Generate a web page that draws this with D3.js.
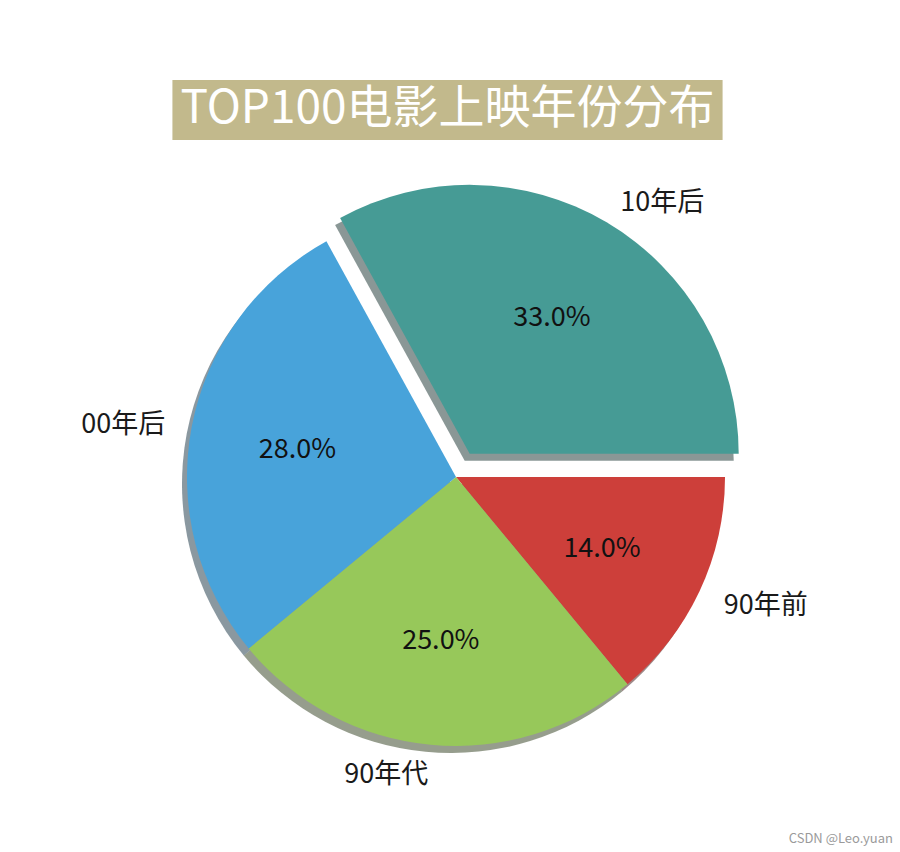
<!DOCTYPE html>
<html>
<head>
<meta charset="utf-8">
<script src="https://cdn.jsdelivr.net/npm/d3@7"></script>
<style>
  html, body { margin: 0; padding: 0; background: #ffffff; }
  svg { display: block; }
</style>
</head>
<body>
<svg id="chart" width="900" height="852"></svg>
<script>
// ---- data ----
const categories = ["90年前", "90年代", "00年后", "10年后"];
const values = [14, 25, 28, 33];
const colors = ["#cd3f3a", "#97c85a", "#48a3da", "#469b95"];
const explode = [0, 0, 0, 0.1];
const titleText = "TOP100电影上映年份分布";
const watermark = "CSDN @Leo.yuan";

// ---- layout ----
const W = 900, H = 852;
const cx = 456, cy = 477, R = 269;
const shadowDx = -5, shadowDy = 7;
const font = "'Noto Sans CJK SC', 'Noto Sans', sans-serif";

const svg = d3.select("#chart");

// title
const titleG = svg.append("g");
const titleRect = titleG.append("rect").attr("fill", "#c2b98c");
const title = titleG.append("text")
  .attr("x", 447.5).attr("y", 123)
  .attr("text-anchor", "middle")
  .attr("font-family", font)
  .attr("font-size", 46)
  .attr("fill", "#ffffff")
  .text(titleText);
const tw = title.node().getComputedTextLength();
titleRect.attr("x", 447.5 - tw / 2 - 8).attr("y", 80)
  .attr("width", tw + 16).attr("height", 60);

// pie
const data = categories.map((c, i) => ({ label: c, value: values[i], color: colors[i], explode: explode[i] }));
const total = d3.sum(values);
const pie = d3.pie().value(d => d.value).sort(null)
  .startAngle(Math.PI / 2).endAngle(Math.PI / 2 + 2 * Math.PI);
const arcs = pie(data);
const arc = d3.arc().innerRadius(0).outerRadius(R);
const pctArc = d3.arc().innerRadius(R * 0.6).outerRadius(R * 0.6);
const labArc = d3.arc().innerRadius(R * 1.1).outerRadius(R * 1.1);

function offset(d) {
  const mid = (d.startAngle + d.endAngle) / 2;
  const m = d.data.explode * R;
  return [m * Math.sin(mid), -m * Math.cos(mid)];
}

const g = svg.append("g").attr("transform", `translate(${cx},${cy})`);

// shadows beneath all wedges
g.selectAll("path.shadow").data(arcs).enter().append("path")
  .attr("class", "shadow")
  .attr("transform", d => { const o = offset(d); return `translate(${o[0] + shadowDx},${o[1] + shadowDy})`; })
  .attr("d", arc)
  .attr("fill", d => { const c = d3.rgb(d.data.color); return d3.rgb(c.r * 0.3, c.g * 0.3, c.b * 0.3); })
  .attr("fill-opacity", 0.5);

// wedges
g.selectAll("path.wedge").data(arcs).enter().append("path")
  .attr("class", "wedge")
  .attr("transform", d => { const o = offset(d); return `translate(${o[0]},${o[1]})`; })
  .attr("d", arc)
  .attr("fill", d => d.data.color);

// percentage labels
g.selectAll("text.pct").data(arcs).enter().append("text")
  .attr("class", "pct")
  .attr("transform", d => { const o = offset(d); const c = pctArc.centroid(d); return `translate(${c[0] + o[0]},${c[1] + o[1]})`; })
  .attr("text-anchor", "middle")
  .attr("dominant-baseline", "central")
  .attr("font-family", font)
  .attr("font-size", 27)
  .attr("fill", "#111111")
  .text(d => (d.data.value / total * 100).toFixed(1) + "%");

// category labels
g.selectAll("text.lab").data(arcs).enter().append("text")
  .attr("class", "lab")
  .attr("transform", d => { const o = offset(d); const c = labArc.centroid(d); return `translate(${c[0] + o[0]},${c[1] + o[1]})`; })
  .attr("text-anchor", d => labArc.centroid(d)[0] >= 0 ? "start" : "end")
  .attr("dominant-baseline", "central")
  .attr("font-family", font)
  .attr("font-size", 27)
  .attr("fill", "#1a1a1a")
  .text(d => d.data.label);

// watermark
svg.append("text")
  .attr("x", 893).attr("y", 843)
  .attr("text-anchor", "end")
  .attr("font-family", font)
  .attr("font-size", 13)
  .attr("fill", "#9a9a9a")
  .text(watermark);
</script>
</body>
</html>
